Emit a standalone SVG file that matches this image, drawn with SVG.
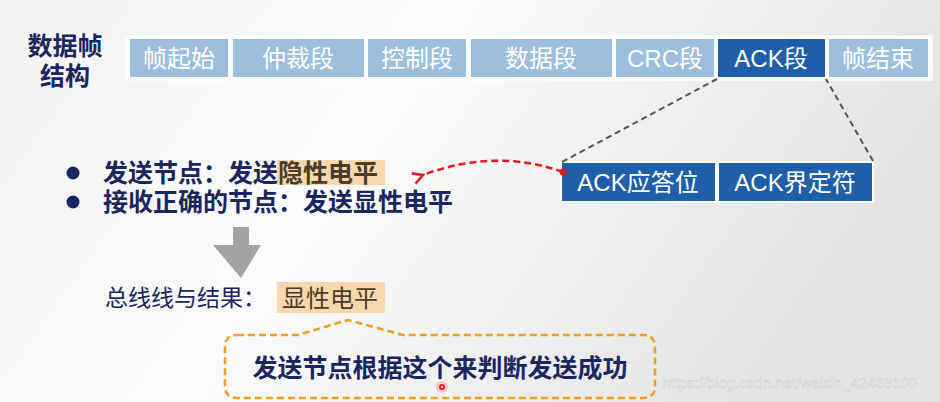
<svg xmlns="http://www.w3.org/2000/svg" width="940" height="402" viewBox="0 0 940 402">
<defs>
<linearGradient id="bg" x1="0" y1="0" x2="1" y2="0.3">
<stop offset="0" stop-color="#f3f3f3"/>
<stop offset="0.45" stop-color="#fbfbfb"/>
<stop offset="1" stop-color="#e4e4e4"/>
</linearGradient>
<marker id="redhead" viewBox="0 0 14 14" refX="2" refY="7" markerWidth="14" markerHeight="14" markerUnits="userSpaceOnUse" orient="auto">
<path d="M12,1.5 L2,7 L12,12.5" fill="none" stroke="#e02020" stroke-width="2.6" stroke-linejoin="miter"/>
</marker>
</defs>
<style>
.t{font-family:"Liberation Sans","Noto Sans CJK SC",sans-serif;}
.seg{fill:#9dbedd;stroke:#ffffff;stroke-width:2;}
.dark{fill:#1f5fa9;stroke:#ffffff;stroke-width:2;}
.segt{font-size:24px;fill:#ffffff;text-anchor:middle;dominant-baseline:central;}
.navy{fill:#1a2660;font-weight:bold;font-size:25px;dominant-baseline:central;}
.hl{fill:#f8d9ad;}
</style>
<rect width="940" height="402" fill="url(#bg)"/>

<g id="title">
<text class="t navy" x="65" y="46" text-anchor="middle">数据帧</text>
<text class="t navy" x="65" y="76" text-anchor="middle">结构</text>
</g>

<g id="frame">
<rect x="125" y="35" width="808" height="46" fill="#ffffff" opacity="0.7"/>
<g id="seg1"><rect class="seg" x="129" y="38" width="100" height="40"/><text class="t segt" x="179" y="58">帧起始</text></g>
<g id="seg2"><rect class="seg" x="232" y="38" width="133" height="40"/><text class="t segt" x="298" y="58">仲裁段</text></g>
<g id="seg3"><rect class="seg" x="367" y="38" width="100" height="40"/><text class="t segt" x="417" y="58">控制段</text></g>
<g id="seg4"><rect class="seg" x="470" y="38" width="143" height="40"/><text class="t segt" x="541" y="58">数据段</text></g>
<g id="seg5"><rect class="seg" x="615" y="38" width="100" height="40"/><text class="t segt" x="665" y="58">CRC段</text></g>
<g id="seg6"><rect class="dark" x="717" y="38" width="109" height="40"/><text class="t segt" x="771" y="58">ACK段</text></g>
<g id="seg7"><rect class="seg" x="828" y="38" width="101" height="40"/><text class="t segt" x="878" y="58">帧结束</text></g>
</g>

<g id="ack-sub">
<g id="ack1"><rect class="dark" x="561" y="162" width="155" height="40"/><text class="t segt" x="638" y="182">ACK应答位</text></g>
<g id="ack2"><rect class="dark" x="718" y="162" width="155" height="40"/><text class="t segt" x="795" y="182">ACK界定符</text></g>
</g>

<g id="connectors">
<line x1="562" y1="162" x2="717" y2="79" stroke="#555555" stroke-width="2" stroke-dasharray="6,4"/>
<line x1="873" y1="161" x2="826" y2="79" stroke="#555555" stroke-width="2" stroke-dasharray="6,4"/>
<path d="M563,172 Q495,148 423,175" fill="none" stroke="#e02020" stroke-width="2.6" stroke-dasharray="7,4" marker-end="url(#redhead)"/>
<circle cx="563" cy="172" r="3.5" fill="#e02020"/>
<path d="M233,227 H249 V245 H261 L241,278 L213,245 H233 Z" fill="#a3a3a3"/>
</g>

<g id="bullets">
<circle cx="73" cy="173" r="6.5" fill="#1a2660"/>
<circle cx="73" cy="202" r="6.5" fill="#1a2660"/>
<rect class="hl" x="277" y="160" width="108" height="25"/>
<text class="t navy" x="103" y="173">发送节点：发送<tspan fill="#4a3b2b">隐性电平</tspan></text>
<text class="t navy" x="103" y="202">接收正确的节点：发送显性电平</text>
</g>

<g id="result">
<text class="t" x="105" y="298" font-size="23" fill="#1a2660" dominant-baseline="central">总线线与结果：</text>
<rect class="hl" x="277" y="282" width="108" height="31"/>
<text class="t" x="282" y="298" font-size="24" fill="#4a3b2b" dominant-baseline="central">显性电平</text>
</g>

<g id="callout">
<path d="M237,335 H298 L348,320 L403,335 H643 Q655,335 655,347 V386 Q655,398 643,398 H237 Q225,398 225,386 V347 Q225,335 237,335 Z" fill="none" stroke="#f0a020" stroke-width="2.6" stroke-dasharray="7,4"/>
<text class="t navy" x="440" y="368" text-anchor="middle">发送节点根据这个来判断发送成功</text>
<circle cx="442" cy="387" r="6" fill="#ff5050" opacity="0.25"/>
<circle cx="442" cy="387" r="3" fill="#e02020"/>
<circle cx="442" cy="387" r="1.2" fill="#ffcccc"/>
</g>

<text class="t" x="662" y="388" font-size="15" fill="#f6f6f6" stroke="#c8c8c8" stroke-width="0.5">https://blog.csdn.net/weixin_42438100</text>
</svg>
